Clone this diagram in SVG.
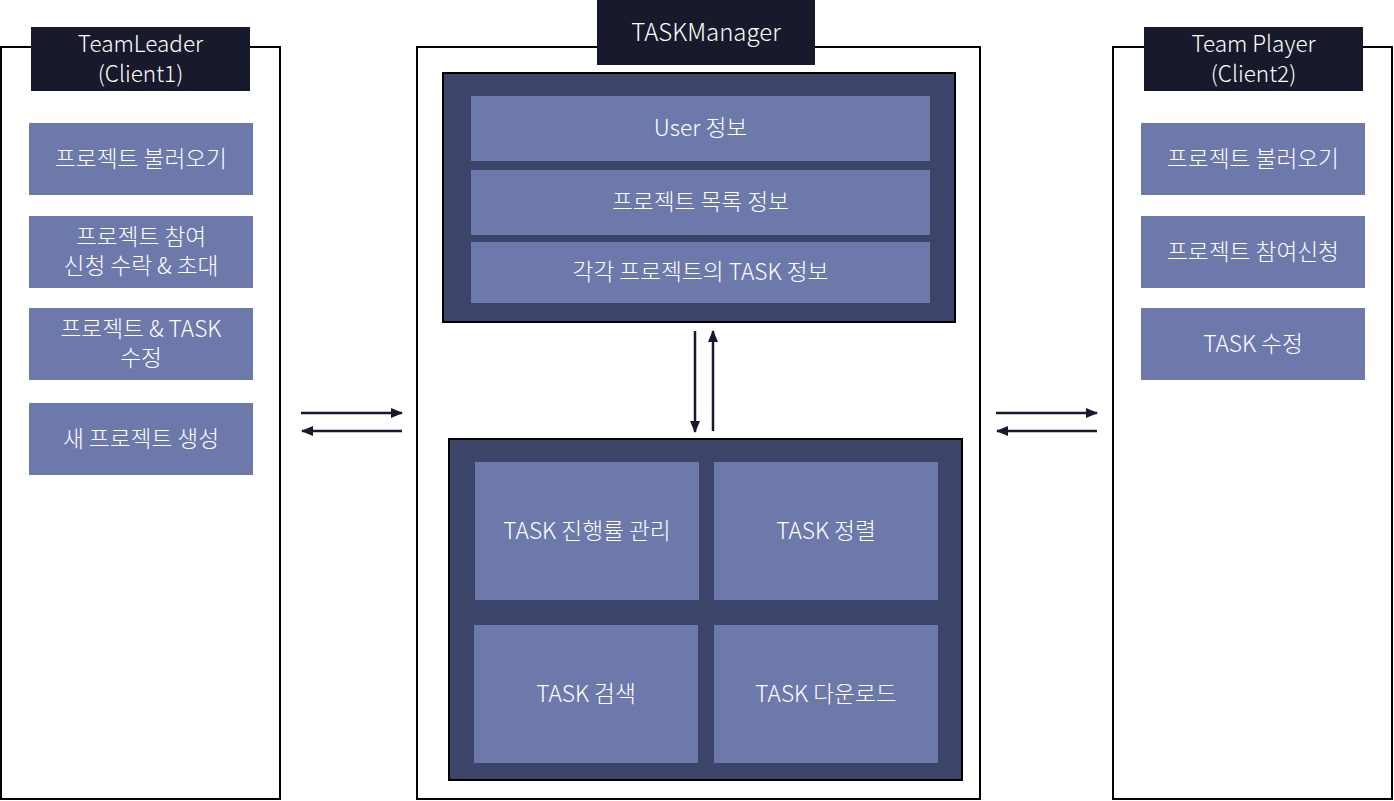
<svg xmlns="http://www.w3.org/2000/svg" width="1394" height="801" viewBox="0 0 1394 801">
<defs>
<style>
.panel{fill:#ffffff;stroke:#000000;stroke-width:2}
.hdr{fill:#161a2b}
.dark{fill:#3c446a;stroke:#000000;stroke-width:2}
.box{fill:#6e79ab}
.t{font-family:"Noto Sans CJK KR","Noto Sans",sans-serif;fill:#ffffff;text-anchor:middle;font-size:22.7px;font-weight:300}
.th{font-family:"Noto Sans CJK KR","Noto Sans",sans-serif;fill:#ffffff;text-anchor:middle;font-size:22.5px;font-weight:300}
.conn{stroke:#161a2b;stroke-width:2.5;fill:none;marker-end:url(#ah)}
</style>
<marker id="ah" viewBox="0 0 12 10" refX="11" refY="5" markerWidth="12" markerHeight="10" markerUnits="userSpaceOnUse" orient="auto">
<path d="M0,0 L12,5 L0,10 Z" fill="#161a2b"/>
</marker>
</defs>

<g id="teamleader">
<rect class="panel" x="1" y="47" width="279" height="752"/>
<rect class="hdr" x="31" y="27" width="219" height="64"/>
<text class="th"><tspan x="140.5" y="52">TeamLeader</tspan><tspan x="140.5" y="82">(Client1)</tspan></text>
</g>
<g id="tl-load">
<rect class="box" x="29" y="123" width="224" height="72"/>
<text class="t" x="141" y="167">프로젝트 불러오기</text>
</g>
<g id="tl-accept">
<rect class="box" x="29" y="216" width="224" height="72"/>
<text class="t"><tspan x="141" y="245">프로젝트 참여</tspan><tspan x="141" y="274">신청 수락 &amp; 초대</tspan></text>
</g>
<g id="tl-edit">
<rect class="box" x="29" y="308" width="224" height="72"/>
<text class="t"><tspan x="141" y="337">프로젝트 &amp; TASK</tspan><tspan x="141" y="366">수정</tspan></text>
</g>
<g id="tl-new">
<rect class="box" x="29" y="403" width="224" height="72"/>
<text class="t" x="141" y="447">새 프로젝트 생성</text>
</g>

<g id="taskmanager">
<rect class="panel" x="417" y="47" width="563" height="752"/>
<rect class="hdr" x="597" y="0" width="218" height="65"/>
<text class="th" x="706" y="41" style="font-size:24px">TASKManager</text>
</g>
<g id="data-store">
<rect class="dark" x="443" y="73" width="512" height="249"/>
</g>
<g id="user-info">
<rect class="box" x="471" y="96" width="459" height="65"/>
<text class="t" x="700.5" y="136">User 정보</text>
</g>
<g id="project-list">
<rect class="box" x="471" y="170" width="459" height="65"/>
<text class="t" x="700.5" y="210">프로젝트 목록 정보</text>
</g>
<g id="task-info">
<rect class="box" x="471" y="242" width="459" height="61"/>
<text class="t" x="700.5" y="280">각각 프로젝트의 TASK 정보</text>
</g>
<g id="functions">
<rect class="dark" x="449" y="439" width="513" height="341"/>
</g>
<g id="task-progress">
<rect class="box" x="475" y="462" width="224" height="138"/>
<text class="t" x="587" y="539">TASK 진행률 관리</text>
</g>
<g id="task-sort">
<rect class="box" x="714" y="462" width="224" height="138"/>
<text class="t" x="826" y="539">TASK 정렬</text>
</g>
<g id="task-search">
<rect class="box" x="474" y="625" width="224" height="138"/>
<text class="t" x="586" y="702">TASK 검색</text>
</g>
<g id="task-download">
<rect class="box" x="714" y="625" width="224" height="138"/>
<text class="t" x="826" y="702">TASK 다운로드</text>
</g>

<g id="teamplayer">
<rect class="panel" x="1113" y="47" width="279" height="752"/>
<rect class="hdr" x="1144" y="27" width="219" height="64"/>
<text class="th"><tspan x="1253.5" y="52">Team Player</tspan><tspan x="1253.5" y="82">(Client2)</tspan></text>
</g>
<g id="tp-load">
<rect class="box" x="1141" y="123" width="224" height="72"/>
<text class="t" x="1253" y="167">프로젝트 불러오기</text>
</g>
<g id="tp-join">
<rect class="box" x="1141" y="216" width="224" height="72"/>
<text class="t" x="1253" y="260">프로젝트 참여신청</text>
</g>
<g id="tp-edit">
<rect class="box" x="1141" y="308" width="224" height="72"/>
<text class="t" x="1253" y="352">TASK 수정</text>
</g>

<g id="connectors">
<line class="conn" x1="301" y1="413" x2="402" y2="413"/>
<line class="conn" x1="402" y1="431" x2="302" y2="431"/>
<line class="conn" x1="996" y1="413" x2="1097" y2="413"/>
<line class="conn" x1="1097" y1="431" x2="997" y2="431"/>
<line class="conn" x1="695" y1="331" x2="695" y2="432"/>
<line class="conn" x1="713" y1="431" x2="713" y2="331"/>
</g>
</svg>
